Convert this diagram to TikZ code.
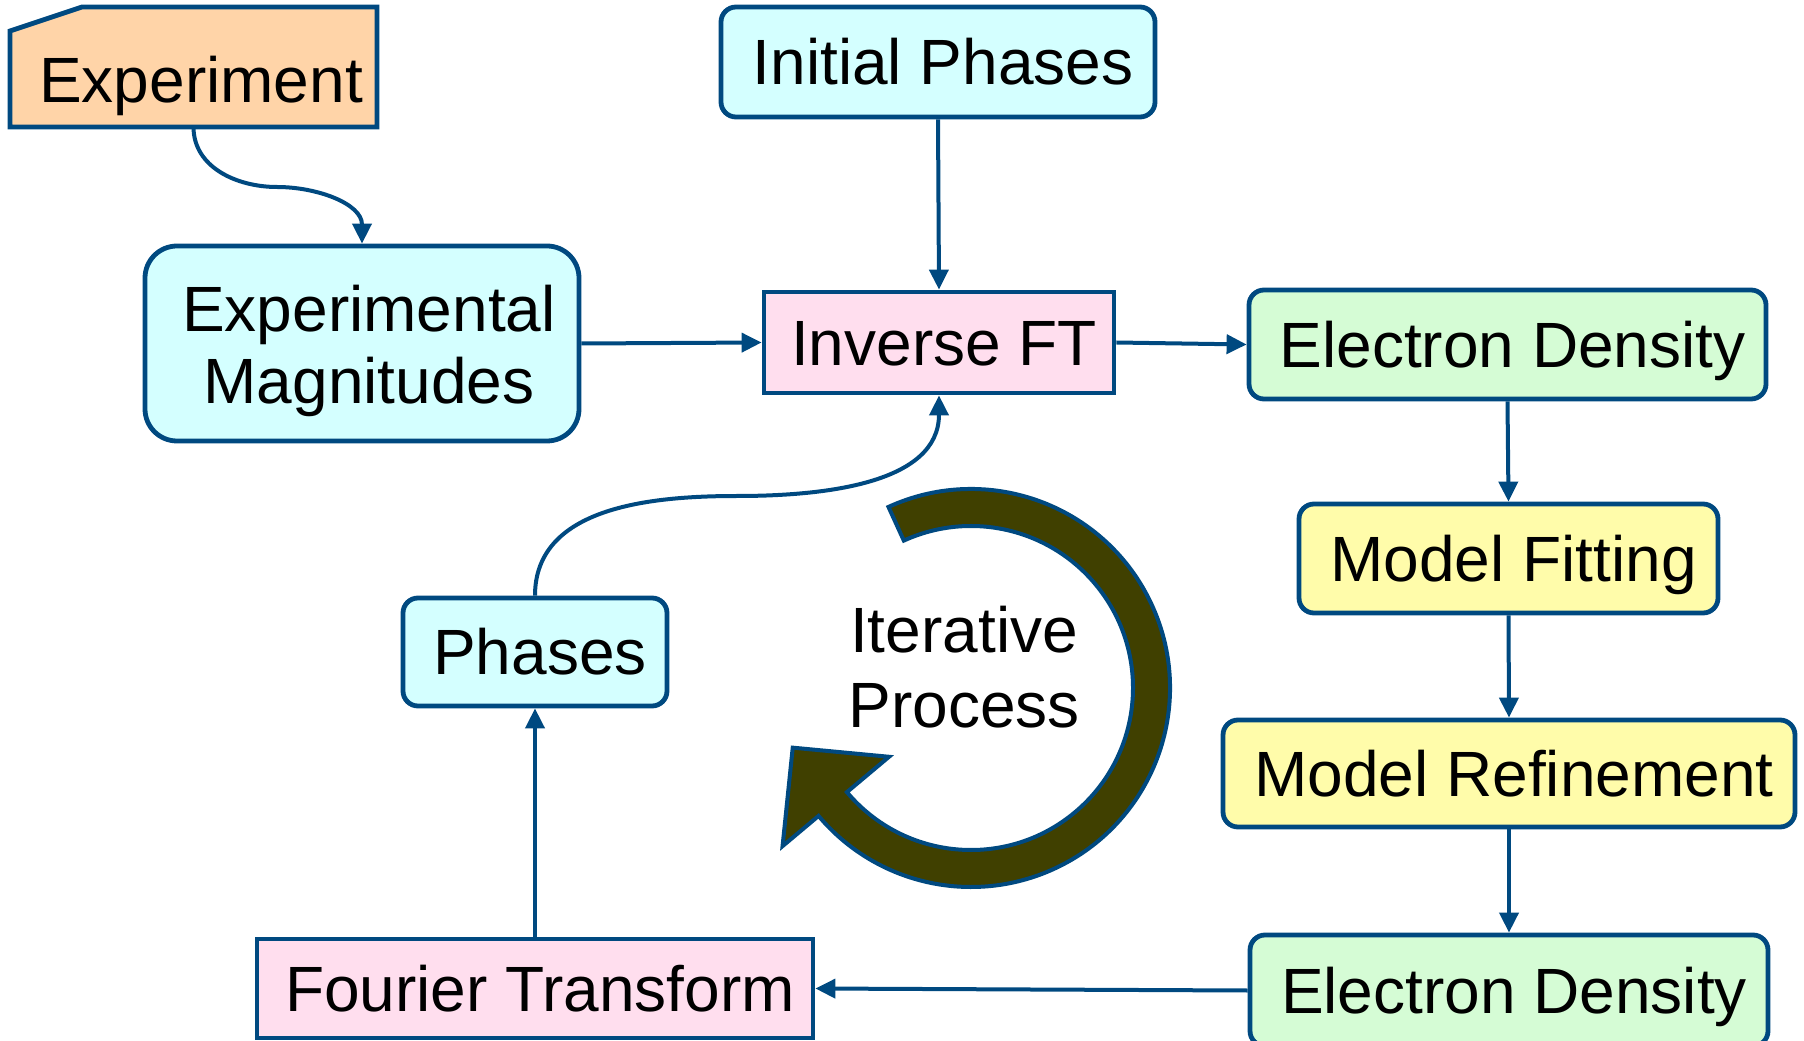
\documentclass[tikz,border=0pt]{standalone}
\usepackage{fontspec}
\setmainfont{Liberation Sans}
\usetikzlibrary{arrows.meta,calc}

\definecolor{edge}{RGB}{0,73,128}
\definecolor{peach}{RGB}{255,212,168}
\definecolor{aqua}{RGB}{212,255,255}
\definecolor{rose}{RGB}{255,222,238}
\definecolor{mint}{RGB}{213,252,213}
\definecolor{lemon}{RGB}{255,252,170}
\definecolor{olivedark}{RGB}{64,64,0}

\begin{document}
\begin{tikzpicture}[x=0.5pt,y=0.5pt,
  lbl/.style={font=\fontsize{32}{36}\selectfont, text=black},
  box/.style={lbl, draw=edge, line width=2.4pt, inner sep=0pt,
              text height=23pt, text depth=0pt,
              execute at begin node={\hspace*{5pt}}},
  rbox/.style={box, rounded corners=7.5pt},
  conn/.style={draw=edge, line width=2pt, -{Triangle[length=10pt,width=9.5pt]}},
]
\useasboundingbox (0,0) rectangle (1804,1040);
\clip (0,0) rectangle (1804,1040);

% source box with a clipped top-left corner
\node[minimum width=183.5pt, minimum height=60pt, inner sep=0pt, outer sep=0pt] (exp) at (193.5,973) {};
\draw[draw=edge, fill=peach, line width=2.4pt, line join=miter]
  (exp.south west) -- ($(exp.north west)+(0,-24)$) -- ($(exp.north west)+(72,0)$)
  -- (exp.north east) -- (exp.south east) -- cycle;
\node[lbl, anchor=base] (exptext) at (201,937) {Experiment};

% process boxes
\node[rbox, fill=aqua, minimum width=217pt, minimum height=55pt] (init) at (938,978) {Initial Phases};
\node[rbox, fill=aqua, rounded corners=16pt, minimum width=217pt, minimum height=97.5pt] (mag) at (362,696.5) {};
\node[lbl, align=center] (magtext) at (369,689.5) {Experimental\\Magnitudes};
\node[box, fill=rose, minimum width=175pt, minimum height=50.5pt] (ift) at (939,697.5) {Inverse FT};
\node[rbox, fill=mint, minimum width=258.5pt, minimum height=54.5pt] (ed1) at (1507.5,695.5) {Electron Density};
\node[rbox, fill=lemon, minimum width=209.5pt, minimum height=54.5pt] (fit) at (1508.5,481.5) {Model Fitting};
\node[rbox, fill=lemon, minimum width=286pt, minimum height=53.5pt] (ref) at (1509,266.5) {Model Refinement};
\node[rbox, fill=mint, minimum width=259pt, minimum height=55.5pt] (ed2) at (1509,49.5) {Electron Density};
\node[box, fill=rose, minimum width=278pt, minimum height=49.5pt] (ft) at (535,51.5) {Fourier Transform};
\node[rbox, fill=aqua, minimum width=132pt, minimum height=54pt] (ph) at (535,388) {Phases};

% circular "iterative" arrow
\coordinate (rc) at (971,352);
\draw[draw=edge, fill=olivedark, line width=2pt, line join=miter]
  ($(rc)+(114.5:199)$) arc[start angle=114.5, end angle=-140, radius=199]
  -- ($(rc)+(-140:246)$) -- ($(rc)+(-161.5:188)$) -- ($(rc)+(-140:107)$)
  -- ($(rc)+(-140:162)$) arc[start angle=-140, end angle=114.5, radius=162] -- cycle;
\node[lbl, align=center, font=\fontsize{32}{37.5}\selectfont] (iter) at (964,373) {Iterative\\Process};

% connectors
\coordinate (m1) at (277,853);
\coordinate (m2) at (737,544);
\draw[conn] (exp.south) to[out=-90,in=180] (m1) to[out=0,in=90] (mag.north);
\draw[conn] (init.south) -- (ift.north);
\draw[conn] (mag.east) -- (ift.west);
\draw[conn] (ift.east) -- (ed1.west);
\draw[conn] (ed1.south) -- (fit.north);
\draw[conn] (fit.south) -- (ref.north);
\draw[conn] (ref.south) -- (ed2.north);
\draw[conn] (ed2.west) -- (ft.east);
\draw[conn] (ft.north) -- (ph.south);
\draw[conn] (ph.north) to[out=90,in=180] (m2) to[out=0,in=-90] (ift.south);
\end{tikzpicture}
\end{document}
